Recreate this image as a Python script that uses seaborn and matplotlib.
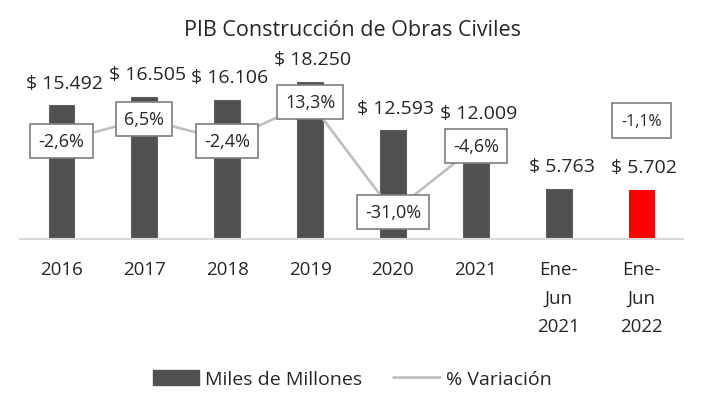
import matplotlib
matplotlib.use("Agg")
import matplotlib.pyplot as plt
import seaborn as sns
import pandas as pd
from matplotlib.patches import Patch
from matplotlib.lines import Line2D

categorias = ['2016', '2017', '2018', '2019', '2020', '2021', 'Ene-\nJun\n2021', 'Ene-\nJun\n2022']
miles_millones = [15492, 16505, 16106, 18250, 12593, 12009, 5763, 5702]
etiquetas_pib = ['$ 15.492', '$ 16.505', '$ 16.106', '$ 18.250', '$ 12.593', '$ 12.009', '$ 5.763', '$ 5.702']
variacion = [-2.6, 6.5, -2.4, 13.3, -31.0, -4.6]
etiquetas_var = ['-2,6%', '6,5%', '-2,4%', '13,3%', '-31,0%', '-4,6%']
variacion_2022 = -1.1
etiqueta_2022 = '-1,1%'

sns.set_style("white")
plt.rcParams['font.family'] = ['Open Sans', 'DejaVu Sans']

gris = '#505050'
colores = [gris] * 7 + ['#FF0000']

df = pd.DataFrame({'cat': categorias, 'valor': miles_millones})

fig = plt.figure(figsize=(7.04, 4.14), dpi=100)
ax = fig.add_axes([20 / 704, 174 / 414, 663 / 704, 181 / 414])
sns.barplot(data=df, x='cat', y='valor', hue='cat', palette=colores,
            legend=False, width=0.31, ax=ax, saturation=1)
for p, c in zip(ax.patches, colores):
    p.set_edgecolor('#606060' if c == gris else '#FF0000')
    p.set_linewidth(0.8)
ax.set_ylim(0, 21000)
ax.set_xlim(-0.5, 7.5)

for i, (v, t) in enumerate(zip(miles_millones, etiquetas_pib)):
    ax.annotate(t, (i, v), xytext=(2, 10), textcoords='offset points',
                ha='center', va='bottom', fontsize=14, color='#262626')

ax.set_xlabel('')
ax.set_ylabel('')
ax.set_yticks([])
ax.tick_params(axis='x', length=0, pad=15, labelsize=13.5, labelcolor='#262626')
for lbl in ax.get_xticklabels():
    lbl.set_linespacing(1.75)
for s in ['top', 'right', 'left']:
    ax.spines[s].set_visible(False)
ax.spines['bottom'].set_color('#D9D9D9')
ax.spines['bottom'].set_linewidth(1.5)

ax2 = ax.twinx()
x_var = list(range(len(variacion)))
sns.lineplot(x=x_var, y=variacion, ax=ax2, color='#BFBFBF', linewidth=1.9)
ax2.set_ylim(-41.9, 30.9)
ax2.set_yticks([])
for s in ['top', 'right', 'left', 'bottom']:
    ax2.spines[s].set_visible(False)

caja = dict(boxstyle='square,pad=0.45', fc='white', ec='#7F7F7F', lw=1.2)
for i, (v, t) in enumerate(zip(variacion, etiquetas_var)):
    ax2.text(i, v, t, ha='center', va='center', fontsize=13, color='#262626', bbox=caja)
caja2 = dict(boxstyle='square,pad=0.6', fc='white', ec='#7F7F7F', lw=1.2)
ax2.annotate(etiqueta_2022, (7, variacion_2022), xytext=(0, 12), textcoords='offset points',
             ha='center', va='center', fontsize=11.5, color='#262626', bbox=caja2)

fig.text(0.5, 1 - 30 / 414, 'PIB Construcción de Obras Civiles', ha='center', va='center',
         fontsize=15.5, color='#262626')

handles = [Patch(facecolor=gris, edgecolor=gris), Line2D([0], [0], color='#BFBFBF', lw=1.9)]
fig.legend(handles, ['Miles de Millones', '% Variación'], loc='center',
           bbox_to_anchor=(0.5, 1 - 380 / 414), ncol=2, frameon=False, fontsize=14,
           handlelength=2.4, handleheight=0.8, columnspacing=1.6, handletextpad=0.3,
           labelcolor='#262626')

fig.savefig('out.png', dpi=100)
